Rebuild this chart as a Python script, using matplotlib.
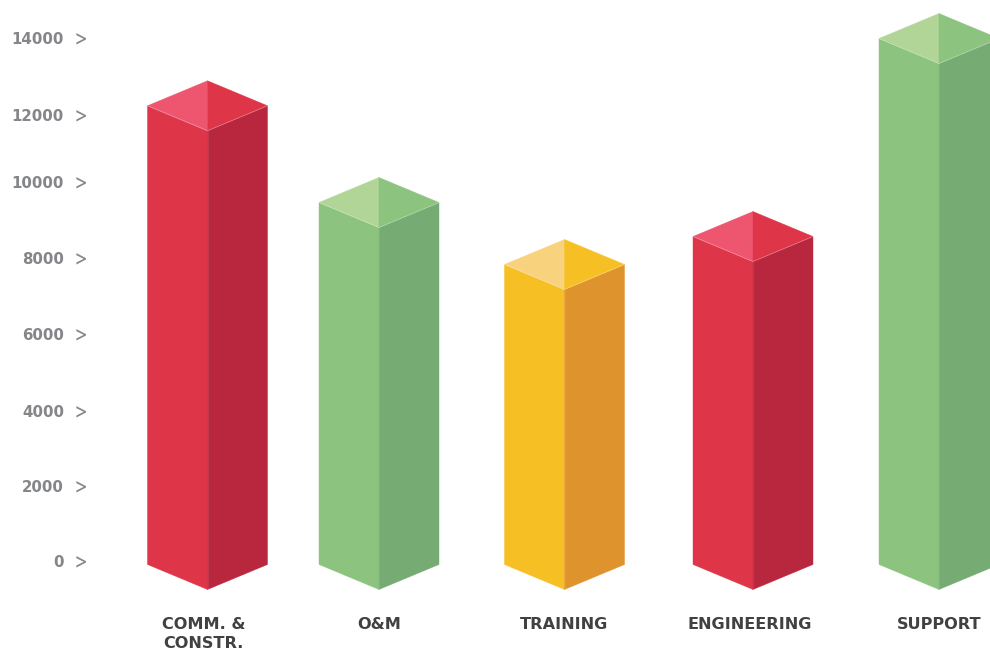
import matplotlib
matplotlib.use("Agg")
import matplotlib.pyplot as plt
from matplotlib.patches import Polygon

# Totals per department
categories = ["COMM. &\nCONSTR.", "O&M", "TRAINING", "ENGINEERING", "SUPPORT"]
values = [12210, 9635, 7985, 8730, 14000]
tick_values = [0, 2000, 4000, 6000, 8000, 10000, 12000, 14000]

# Layout, in figure pixels along x
centers = [207.5, 379, 564.5, 753, 939]
label_centers = [203.5, 379, 564.5, 749.5, 939]
half_width = 60
PX_PER_UNIT = 0.03757
BASE_PX = 564.5
depth = 25.0 / PX_PER_UNIT

# Front-left, front-right and top-face shades for each colour family
RED = ("#de3549", "#b8273e", "#ee5670", "#de3549")
GREEN = ("#8cc37f", "#76ac74", "#b0d596", "#8cc37f")
YELLOW = ("#f6bf23", "#df932c", "#f8d27c", "#f6bf23")
palette = [RED, GREEN, YELLOW, RED, GREEN]

TICK_COLOR = "#85868a"
LABEL_COLOR = "#414042"
FONT = "DejaVu Sans"

fig = plt.figure(figsize=(9.9, 6.52), dpi=100)
ax = fig.add_axes([0, 0, 1, 1])
ax.set_xlim(0, 990)
ax.set_ylim((BASE_PX - 652) / PX_PER_UNIT, BASE_PX / PX_PER_UNIT)
ax.axis("off")

for cx, v, (left, right, top_l, top_r) in zip(centers, values, palette):
    x0, x1 = cx - half_width, cx + half_width
    faces = [
        ([(x0, 0), (cx, -depth), (cx, v - depth), (x0, v)], left),
        ([(cx, -depth), (x1, 0), (x1, v), (cx, v - depth)], right),
        ([(x0, v), (cx, v + depth), (cx, v - depth)], top_l),
        ([(cx, v + depth), (x1, v), (cx, v - depth)], top_r),
    ]
    for pts, color in faces:
        ax.add_patch(Polygon(pts, closed=True, facecolor=color, edgecolor=color,
                             linewidth=0.3, clip_on=False))
    # Faint highlight along the front edges of the prism
    ax.plot([x0, cx, x1], [v, v - depth, v], color="white", alpha=0.3, lw=0.6)
    ax.plot([cx, cx], [-depth, v - depth], color="white", alpha=0.1, lw=0.6)

# Hand-spaced scale labels sit slightly off the bar scale
tick_nudge = [53, 50, 45, 96, 117, 141, -75, -27]
for t, nudge in zip(tick_values, tick_nudge):
    y = t + nudge
    ax.text(64, y, f"{t}", ha="right", va="center", color=TICK_COLOR,
            fontsize=10.8, fontweight="bold", family=FONT)
    ax.text(81, y, ">", ha="center", va="center", color=TICK_COLOR,
            fontsize=15, family="Inter")

label_y = (BASE_PX - 617) / PX_PER_UNIT
for cx, name in zip(label_centers, categories):
    ax.text(cx, label_y, name, ha="center", va="top", color=LABEL_COLOR,
            fontsize=11.6, fontweight="bold", family=FONT, linespacing=1.32)

fig.savefig("out.png", dpi=100)
